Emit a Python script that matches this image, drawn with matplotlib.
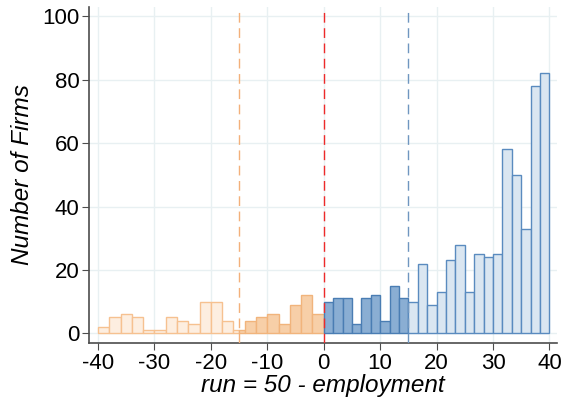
import numpy as np
import matplotlib.pyplot as plt

plt.rcParams['font.family'] = ['Liberation Sans', 'DejaVu Sans']
plt.rcParams['axes.unicode_minus'] = False

# Bin edges and counts for each of the four groups
far_left_edges = [-40, -38, -36, -34, -32, -30, -28, -26, -24, -22, -20, -18, -16, -15]
far_left_counts = [2, 5, 6, 5, 1, 1, 5, 4, 3, 10, 10, 4, 1]

near_left_edges = [-15, -14, -12, -10, -8, -6, -4, -2, 0]
near_left_counts = [1, 4, 5, 6, 3, 9, 12, 6]

near_right_edges = np.linspace(0, 15, 10)
near_right_counts = [10, 11, 11, 3, 11, 12, 4, 15, 11]

far_right_edges = np.linspace(15, 40, 16)
far_right_counts = [10, 22, 9, 13, 23, 28, 13, 25, 24, 25, 58, 50, 33, 78, 82]

cutoffs = [-15, 0, 15]

fig, ax = plt.subplots(figsize=(5.67, 4.01), dpi=100)


def draw(edges, counts, face, edge):
    edges = np.asarray(edges, dtype=float)
    ax.bar(edges[:-1], counts, width=np.diff(edges), align="edge",
           color=face, edgecolor=edge, linewidth=1.0, zorder=3)


draw(far_left_edges, far_left_counts, "#fdeee0", "#f6c190")
draw(near_left_edges, near_left_counts, "#f7cfa8", "#f1b47c")
draw(near_right_edges, near_right_counts, "#8aaed3", "#4a7db3")
draw(far_right_edges, far_right_counts, "#dae6f1", "#5a8bbf")

# Cutoff lines
ax.axvline(cutoffs[0], color="#f3b07a", linestyle=(0, (7, 4)), linewidth=1, zorder=4)
ax.axvline(cutoffs[1], color="#ee2a2a", linestyle=(0, (7, 4)), linewidth=1, zorder=4)
ax.axvline(cutoffs[2], color="#6f96c0", linestyle=(0, (7, 4)), linewidth=1, zorder=4)

ax.set_xlim(-41.6, 41.3)
ax.set_ylim(-3, 103)
ax.set_xticks(range(-40, 41, 10))
ax.set_yticks(range(0, 101, 20))
ax.grid(True, color="#e8f0f2", linewidth=1, zorder=0)

for s in ["top", "right"]:
    ax.spines[s].set_visible(False)
for s in ["left", "bottom"]:
    ax.spines[s].set_color("#4d4d4d")
    ax.spines[s].set_linewidth(1.2)

ax.tick_params(labelsize=16, color="#4d4d4d", length=5, pad=2)
ax.set_xlabel("run = 50 - employment", fontsize=17.5, style="italic", labelpad=0)
ax.set_ylabel("Number of Firms", fontsize=17.5, style="italic", labelpad=6)

fig.subplots_adjust(left=0.157, right=0.982, top=0.983, bottom=0.145)
fig.savefig("out.png", dpi=100)
